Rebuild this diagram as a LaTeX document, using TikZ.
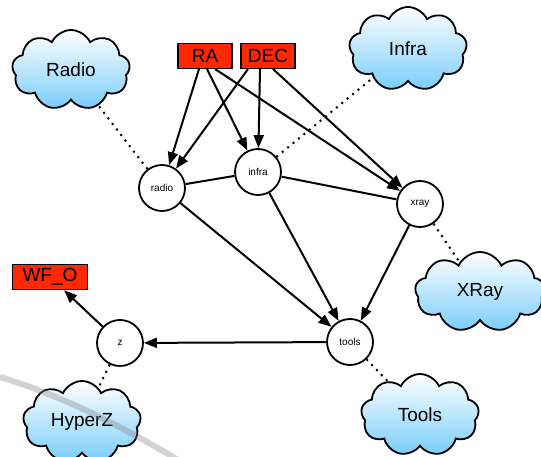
\documentclass[tikz,border=0pt]{standalone}
\usepackage{fontspec}
\setmainfont{Liberation Sans}
\usetikzlibrary{shapes.symbols,arrows.meta}
\definecolor{boxred}{RGB}{255,40,0}
\definecolor{cloudblue}{RGB}{120,205,250}
\tikzset{
  pt/.style={x=1pt,y=-1pt},
  cl/.style={cloud, cloud puffs=9, cloud puff arc=130, cloud ignores aspect, draw, line width=1.8pt,
    top color=white, bottom color=cloudblue, font=\fontsize{19}{20}\selectfont, inner sep=0pt},
  rbox/.style={draw, line width=1.5pt, fill=boxred, font=\fontsize{19}{20}\selectfont, inner sep=0pt, minimum height=25pt},
  cir/.style={circle, draw, line width=1.8pt, fill=white, minimum size=46pt, inner sep=0pt, font=\fontsize{10}{11}\selectfont},
  arr/.style={line width=2pt, -{Triangle[length=13pt,width=10pt]}},
  ln/.style={line width=2pt},
  dot/.style={line width=2pt, dash pattern=on 2pt off 5pt}
}
\begin{document}
\begin{tikzpicture}[pt]
\useasboundingbox (0,0) rectangle (541,457);
% clouds
\node[cl, minimum width=118pt, minimum height=80pt] (Radio) at (71,70) {Radio};
\node[cl, minimum width=118pt, minimum height=84pt] (Infra) at (408,49) {Infra};
\node[cl, minimum width=130pt, minimum height=80pt] (XRay) at (480,292) {XRay};
\node[cl, minimum width=118pt, minimum height=82pt] (Tools) at (420,415) {Tools};
\node[cl, minimum width=118pt, minimum height=82pt] (HyperZ) at (82,422) {HyperZ};
% boxes
\node[rbox, minimum width=54pt] (RA) at (205,56) {RA};
\node[rbox, minimum width=54pt] (DEC) at (268,56) {DEC};
\node[rbox, minimum width=75pt] (WFO) at (50,277) {WF\_O};
% circles
\node[cir] (radio) at (162,188) {radio};
\node[cir] (infra) at (258,172) {infra};
\node[cir] (xray) at (420,204) {xray};
\node[cir] (tools) at (350,342) {tools};
\node[cir] (z) at (120,343) {z};
% dotted links
\draw[dot] (radio) -- (Radio);
\draw[dot] (infra) -- (Infra);
\draw[dot] (xray) -- (XRay);
\draw[dot] (tools) -- (Tools);
\draw[dot] (z) -- (HyperZ);
% plain links
\draw[ln] (radio) -- (infra);
\draw[ln] (infra) -- (xray);
% arrows
\coordinate (ra1) at (199,69);
\coordinate (ra2) at (207,69);
\coordinate (ra3) at (215,69);
\coordinate (de1) at (248,69);
\coordinate (de2) at (260,69);
\coordinate (de3) at (273,69);
\draw[arr] (ra1) -- (radio);
\draw[arr] (ra2) -- (infra);
\draw[arr] (ra3) -- (xray);
\draw[arr] (de1) -- (radio);
\draw[arr] (de2) -- (infra);
\draw[arr] (de3) -- (xray);
\draw[arr] (radio) -- (tools);
\draw[arr] (infra) -- (tools);
\draw[arr] (xray) -- (tools);
\draw[arr] (tools) -- (z);
\draw[arr] (z) -- (WFO);
% faint grey arc (background mark)
\draw[gray, opacity=0.35, line width=6pt] (0,377) .. controls (60,395) and (120,425) .. (178,460);
\end{tikzpicture}
\end{document}
